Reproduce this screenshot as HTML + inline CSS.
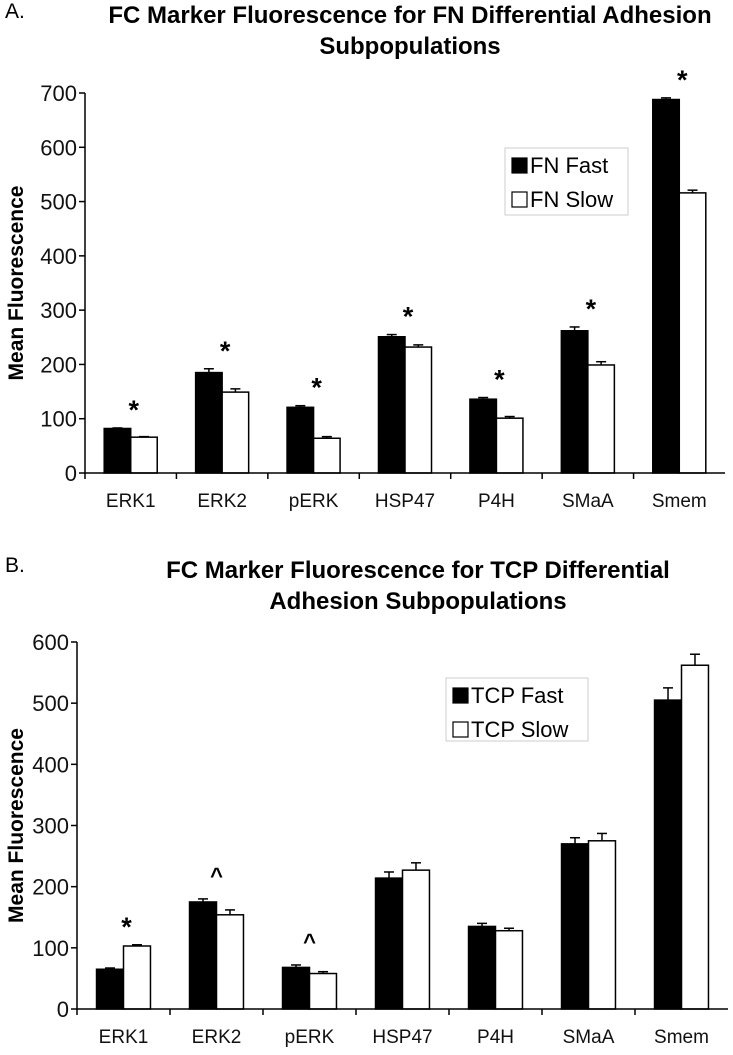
<!DOCTYPE html>
<html><head><meta charset="utf-8"><style>
body{margin:0;background:#fff}
svg{font-family:"Liberation Sans",Arial,sans-serif}
</style></head><body>
<svg width="733" height="1050">
<g id="A"></g>
<g id="B"></g>
</svg>
<script>
const categories=["ERK1","ERK2","pERK","HSP47","P4H","SMaA","Smem"];
const fnFast=[82,185,121,251,136,262,688];
const fnFastErr=[1,7,3,4,3,7,3];
const fnSlow=[66,149,64,232,101,199,516];
const fnSlowErr=[1,6,3,4,3,6,5];
const fnMarks=["*","*","*","*","*","*","*"];
const tcpFast=[65,175,68,214,135,270,505];
const tcpFastErr=[2,5,4,10,5,10,20];
const tcpSlow=[103,154,58,227,128,275,562];
const tcpSlowErr=[2,8,3,12,4,12,18];
const tcpMarks=["*","^","^","","","",""];
const ticksA=[0,100,200,300,400,500,600,700];
const ticksB=[0,100,200,300,400,500,600];
const NS="http://www.w3.org/2000/svg";
function mk(p,t,a,txt){const e=document.createElementNS(NS,t);for(const k in a)e.setAttribute(k,a[k]);if(txt!==undefined)e.textContent=txt;p.appendChild(e);return e;}
function draw(cfg){
 const g=document.getElementById(cfg.id);
 const x0=cfg.x0,x1=cfg.x1,y0=cfg.y0,yTop=cfg.yTop,max=cfg.ticks[cfg.ticks.length-1];
 const y=v=>y0-(v/max)*(y0-yTop);
 const cw=(x1-x0)/categories.length;
 const t1=mk(g,'text',{x:5,y:cfg.letterY,'font-size':21},cfg.letter);
 
 cfg.title.forEach((l,i)=>{const t=mk(g,'text',{x:cfg.titleX,y:cfg.titleY+i*31,'font-size':24,'font-weight':'bold','text-anchor':'middle'},l);
 });
 const yt=mk(g,'text',{transform:`translate(23,${(y0+yTop)/2}) rotate(-90)`,'font-size':21,'font-weight':'bold','text-anchor':'middle'},'Mean Fluorescence');
 
 cfg.ticks.forEach(v=>{
  const l=mk(g,'line',{x1:x0-6,x2:x0,y1:y(v),y2:y(v),stroke:'#000','stroke-width':1.5});
  
  const t=mk(g,'text',{x:x0-8,y:y(v)+8,'font-size':22,'text-anchor':'end',fill:'#111'},v);
  
 });
 categories.forEach((c,i)=>{
  const cx=x0+cw*(i+0.5),bw=cw*0.29;
  const tk=mk(g,'line',{x1:x0+cw*i,x2:x0+cw*i,y1:y0,y2:y0+6,stroke:'#000','stroke-width':1.5});
  
  const lab=mk(g,'text',{x:cx,y:y0+34,'font-size':19,'text-anchor':'middle',fill:'#111'},c);
  
  [[cfg.fast,cfg.fastErr,cx-bw,'#000'],[cfg.slow,cfg.slowErr,cx,'#fff']].forEach(([vals,errs,bx,fill])=>{
   const v=vals[i],e=errs[i],ex=bx+bw/2;
   const el=mk(g,'line',{x1:ex,x2:ex,y1:y(v),y2:y(v+e),stroke:'#000','stroke-width':1.5});
   
   const ec=mk(g,'line',{x1:ex-5,x2:ex+5,y1:y(v+e),y2:y(v+e),stroke:'#000','stroke-width':1.5});
   
   const r=mk(g,'rect',{x:bx,y:y(v),width:bw,height:y0-y(v),fill:fill,stroke:'#000','stroke-width':1.5});
   
  });
  const m=cfg.marks[i];
  if(m){const top=Math.max(cfg.fast[i]+cfg.fastErr[i],cfg.slow[i]+cfg.slowErr[i]);
   const s=mk(g,'text',{x:cx+(m=='^'?0:3),y:y(top)-(m=='^'?16:9),'font-size':m=='^'?22:27,'font-weight':'bold','text-anchor':'middle'},m);
   }
 });
 const ax=mk(g,'path',{d:`M${x0},${yTop} V${y0} H${x1}`,fill:'none',stroke:'#000','stroke-width':1.5});
 
 const L=cfg.legend;
 const lg=mk(g,'g',{});
 
 mk(lg,'rect',{x:L.x,y:L.y,width:L.w,height:L.h,fill:'#fff',stroke:'#ccc'});
 cfg.names.forEach((n,i)=>{
  const ey=L.y+17+i*34;
  const sw=mk(lg,'rect',{x:L.x+7,y:ey-7,width:15,height:15,fill:i?'#fff':'#000',stroke:'#000','stroke-width':1.2});
  
  const t=mk(lg,'text',{x:L.x+25,y:ey+8,'font-size':22},n);
  
 });
}
draw({id:'A',letter:'A.',letterY:18,title:['FC Marker Fluorescence for FN Differential Adhesion','Subpopulations'],titleX:410,titleY:23,
 x0:85,x1:725,y0:473,yTop:93,ticks:ticksA,fast:fnFast,fastErr:fnFastErr,slow:fnSlow,slowErr:fnSlowErr,marks:fnMarks,
 names:['FN Fast','FN Slow'],legend:{x:505,y:148,w:123,h:67}});
draw({id:'B',letter:'B.',letterY:572,title:['FC Marker Fluorescence for TCP Differential','Adhesion Subpopulations'],titleX:418,titleY:578,
 x0:77,x1:728,y0:1009,yTop:642,ticks:ticksB,fast:tcpFast,fastErr:tcpFastErr,slow:tcpSlow,slowErr:tcpSlowErr,marks:tcpMarks,
 names:['TCP Fast','TCP Slow'],legend:{x:446,y:678,w:142,h:63}});
</script>
</body></html>
